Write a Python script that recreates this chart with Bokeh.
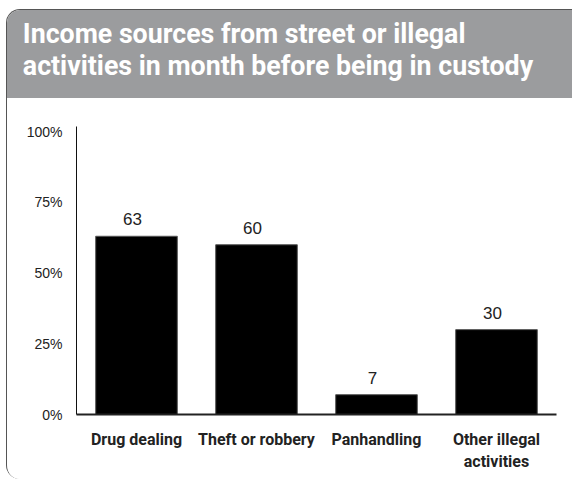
from bokeh.plotting import figure
from bokeh.layouts import column
from bokeh.models import Range1d, FactorRange, FixedTicker, ColumnDataSource, LabelSet, Div
from bokeh.core.properties import value
from bokeh.embed import file_html
from bokeh.resources import INLINE

# ---- data ----
title_lines = ["Income sources from street or illegal",
               "activities in month before being in custody"]
categories = ["Drug dealing", "Theft or robbery", "Panhandling", "Other illegal\nactivities"]
values = [63, 60, 7, 30]
value_labels = ["63", "60", "7", "30"]
y_ticks = [0, 25, 50, 75, 100]
y_tick_labels = ["0%", "25%", "50%", "75%", "100%"]

BOLD = "Roboto"
REG = "Liberation Sans"
GRAY = "#9b9c9e"
W = 565

# ---- header ----
hdr = Div(text="<div style=\"font-family:Roboto,sans-serif;font-weight:bold;font-size:27px;"
               "line-height:32px;color:white;padding:8px 0 0 16px;white-space:nowrap;"
               "transform:scaleX(0.99);transform-origin:0 0;\">"
               + "<br>".join(title_lines) + "</div>",
          width=W, height=88,
          styles={"background-color": GRAY, "margin": "0", "padding": "0", "overflow": "hidden"})

# ---- chart ----
src = ColumnDataSource(dict(cat=categories, val=values, lab=value_labels))
p = figure(width=W, height=381, x_range=FactorRange(*categories),
           y_range=Range1d(0, 101.8), output_backend="svg", toolbar_location=None,
           min_border_left=69, min_border_right=W - 69 - 480, min_border_top=28,
           min_border_bottom=65)
p.vbar(x="cat", top="val", width=0.68, source=src, fill_color="black",
       line_color="#555555", line_width=1)
p.add_layout(LabelSet(x="cat", y="val", text="lab", source=src, y_offset=11, x_offset=-4,
                      text_align="center", text_baseline="alphabetic",
                      text_font=value(REG), text_font_size=value("17px"),
                      text_color="#222222"))

p.grid.visible = False
p.outline_line_color = None
p.background_fill_color = "white"
p.border_fill_color = "white"

ya = p.yaxis[0]
ya.ticker = FixedTicker(ticks=y_ticks)
ya.major_label_overrides = {t: l for t, l in zip(y_ticks, y_tick_labels)}
ya.major_tick_line_color = None
ya.minor_tick_line_color = None
ya.axis_line_color = "#111111"
ya.axis_line_width = 1
ya.major_label_text_font = REG
ya.major_label_text_font_size = "14px"
ya.major_label_text_color = "#222222"
ya.major_label_standoff = 8

xa = p.xaxis[0]
xa.major_tick_line_color = None
xa.minor_tick_line_color = None
xa.axis_line_color = "#222222"
xa.axis_line_width = 2
xa.major_label_text_font = BOLD
xa.major_label_text_font_style = "bold"
xa.major_label_text_font_size = "16px"
xa.major_label_text_color = "#222222"
xa.major_label_standoff = 9

layout = column(hdr, p, spacing=0,
                styles={"border-top": "1.5px solid #555555",
                        "border-left": "1.5px solid #555555",
                        "border-top-left-radius": "14px",
                        "border-bottom-left-radius": "14px",
                        "overflow": "hidden",
                        "margin-top": "9px",
                        "margin-left": "6px"})

open("out.html", "w").write(file_html(layout, INLINE))
